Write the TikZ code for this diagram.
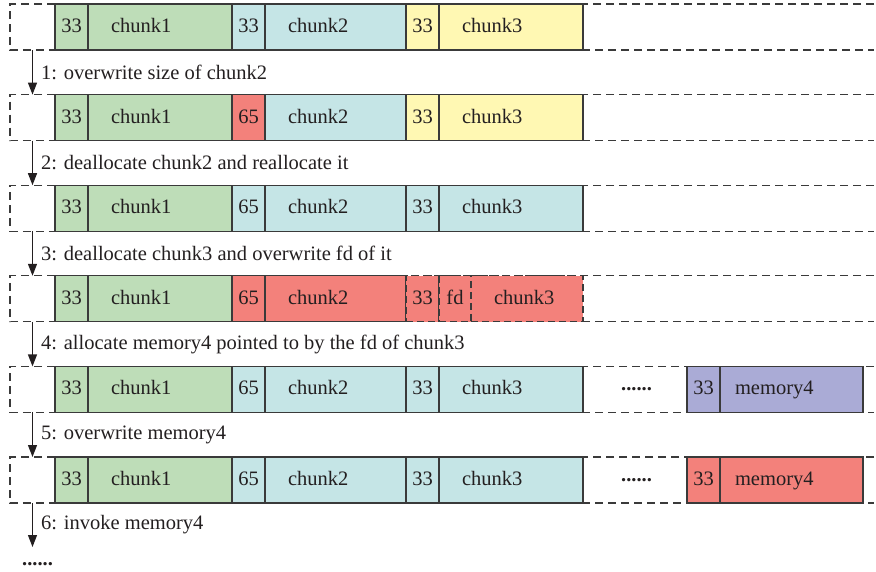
\documentclass[tikz,border=0pt]{standalone}
\usepackage{fontspec}
\setmainfont{Liberation Serif}
\usetikzlibrary{arrows.meta, positioning, backgrounds}
\definecolor{inkgray}{HTML}{231F20}
\definecolor{edgegray}{HTML}{3A3A3A}
\definecolor{chunkgreen}{HTML}{BEDDB8}
\definecolor{chunkcyan}{HTML}{C5E5E6}
\definecolor{chunkyellow}{HTML}{FFF8B3}
\definecolor{chunkred}{HTML}{F3817B}
\definecolor{memblue}{HTML}{AAABD6}
\newcommand{\heapfont}{\fontsize{20.5}{24}\selectfont}
\tikzset{
  % Heap cells
  cell/.style={rectangle, draw=edgegray, line width=1.2pt, fill=#1, minimum height=46pt, inner xsep=0pt, inner ysep=0pt, outer sep=0pt, text height=15pt, text depth=4pt, text=inkgray},
  cell/.default={white},
  hdr/.style={cell=#1, minimum width=33pt},
  body/.style 2 args={cell=#1, minimum width=#2, text width=#2-46pt, align=left},
  freed/.style={dash pattern=on 7pt off 4pt},
  % Row outline and steps
  slot/.style={rectangle, minimum width=45pt, minimum height=46pt, inner sep=0pt, outer sep=0pt},
  frame/.style={draw=edgegray, line width=1.2pt, dash pattern=on 8pt off 5pt},
  arrow/.style={-{Triangle[length=12pt, width=9pt]}, line width=1.2pt, draw=inkgray},
  steplabel/.style={anchor=west, inner sep=0pt, xshift=8pt, text=inkgray},
  dots/.style={inner sep=0pt, text=inkgray, font=\heapfont\bfseries},
}

\begin{document}
\begin{tikzpicture}[x=1pt, y=1pt, font=\heapfont]
    \useasboundingbox (0,0) rectangle (876,-571);

    % Row 1: initial chunks
    \node[slot, anchor=north west] (slot1) at (10,-4) {};
    \node[hdr=chunkgreen, right=0pt of slot1] (h11) {33};
    \node[body={chunkgreen}{144pt}, right=0pt of h11] (c11) {chunk1};
    \node[hdr=chunkcyan, right=0pt of c11] (h12) {33};
    \node[body={chunkcyan}{141pt}, right=0pt of h12] (c12) {chunk2};
    \node[hdr=chunkyellow, right=0pt of c12] (h13) {33};
    \node[body={chunkyellow}{144pt}, right=0pt of h13] (c13) {chunk3};

    % Row 2: size of chunk2 overwritten
    \node[slot, below=44.6pt of slot1] (slot2) {};
    \node[hdr=chunkgreen, right=0pt of slot2] (h21) {33};
    \node[body={chunkgreen}{144pt}, right=0pt of h21] (c21) {chunk1};
    \node[hdr=chunkred, right=0pt of c21] (h22) {65};
    \node[body={chunkcyan}{141pt}, right=0pt of h22] (c22) {chunk2};
    \node[hdr=chunkyellow, right=0pt of c22] (h23) {33};
    \node[body={chunkyellow}{144pt}, right=0pt of h23] (c23) {chunk3};

    % Row 3: chunk2 reallocated over chunk3
    \node[slot, below=44.6pt of slot2] (slot3) {};
    \node[hdr=chunkgreen, right=0pt of slot3] (h31) {33};
    \node[body={chunkgreen}{144pt}, right=0pt of h31] (c31) {chunk1};
    \node[hdr=chunkcyan, right=0pt of c31] (h32) {65};
    \node[body={chunkcyan}{141pt}, right=0pt of h32] (c32) {chunk2};
    \node[hdr=chunkcyan, right=0pt of c32] (h33) {33};
    \node[body={chunkcyan}{144pt}, right=0pt of h33] (c33) {chunk3};

    % Row 4: chunk3 freed, fd overwritten
    \node[slot, below=44.6pt of slot3] (slot4) {};
    \node[hdr=chunkgreen, right=0pt of slot4] (h41) {33};
    \node[body={chunkgreen}{144pt}, right=0pt of h41] (c41) {chunk1};
    \node[hdr=chunkred, right=0pt of c41] (h42) {65};
    \node[body={chunkred}{141pt}, right=0pt of h42] (c42) {chunk2};
    \node[hdr=chunkred, freed, right=0pt of c42] (h43) {33};
    \node[cell=chunkred, freed, minimum width=32pt, right=0pt of h43] (fd4) {fd};
    \node[body={chunkred}{112pt}, freed, right=0pt of fd4] (c43) {chunk3};

    % Row 5: memory4 allocated
    \node[slot, below=44.6pt of slot4] (slot5) {};
    \node[hdr=chunkgreen, right=0pt of slot5] (h51) {33};
    \node[body={chunkgreen}{144pt}, right=0pt of h51] (c51) {chunk1};
    \node[hdr=chunkcyan, right=0pt of c51] (h52) {65};
    \node[body={chunkcyan}{141pt}, right=0pt of h52] (c52) {chunk2};
    \node[hdr=chunkcyan, right=0pt of c52] (h53) {33};
    \node[body={chunkcyan}{144pt}, right=0pt of h53] (c53) {chunk3};
    \node[dots, right=38pt of c53] (gap5) {......};
    \node[hdr=memblue, right=104pt of c53] (h54) {33};
    \node[body={memblue}{143pt}, text width=113pt, right=0pt of h54] (m54) {memory4};

    % Row 6: memory4 overwritten
    \node[slot, below=44.6pt of slot5] (slot6) {};
    \node[hdr=chunkgreen, right=0pt of slot6] (h61) {33};
    \node[body={chunkgreen}{144pt}, right=0pt of h61] (c61) {chunk1};
    \node[hdr=chunkcyan, right=0pt of c61] (h62) {65};
    \node[body={chunkcyan}{141pt}, right=0pt of h62] (c62) {chunk2};
    \node[hdr=chunkcyan, right=0pt of c62] (h63) {33};
    \node[body={chunkcyan}{144pt}, right=0pt of h63] (c63) {chunk3};
    \node[dots, right=38pt of c63] (gap6) {......};
    \node[hdr=chunkred, right=104pt of c63] (h64) {33};
    \node[body={chunkred}{143pt}, text width=113pt, right=0pt of h64] (m64) {memory4};

    % Open dashed outlines behind the rows
    \begin{scope}[on background layer]
      \foreach \r in {1,...,6} {
        \draw[frame] ([xshift=819pt]slot\r.north east) -- (slot\r.north west)
          -- (slot\r.south west) -- ([xshift=819pt]slot\r.south east);
      }
    \end{scope}

    % Steps
    \coordinate[below=44pt of slot6.south] (tail);
    \node[dots, below=15pt of tail, xshift=5pt] (more) {......};
    \draw[arrow] (slot1.south) -- node[steplabel] {1: overwrite size of chunk2} (slot2.north);
    \draw[arrow] (slot2.south) -- node[steplabel] {2: deallocate chunk2 and reallocate it} (slot3.north);
    \draw[arrow] (slot3.south) -- node[steplabel] {3: deallocate chunk3 and overwrite fd of it} (slot4.north);
    \draw[arrow] (slot4.south) -- node[steplabel] {4: allocate memory4 pointed to by the fd of chunk3} (slot5.north);
    \draw[arrow] (slot5.south) -- node[steplabel] {5: overwrite memory4} (slot6.north);
    \draw[arrow] (slot6.south) -- node[steplabel] {6: invoke memory4} (tail);
\end{tikzpicture}
\end{document}
